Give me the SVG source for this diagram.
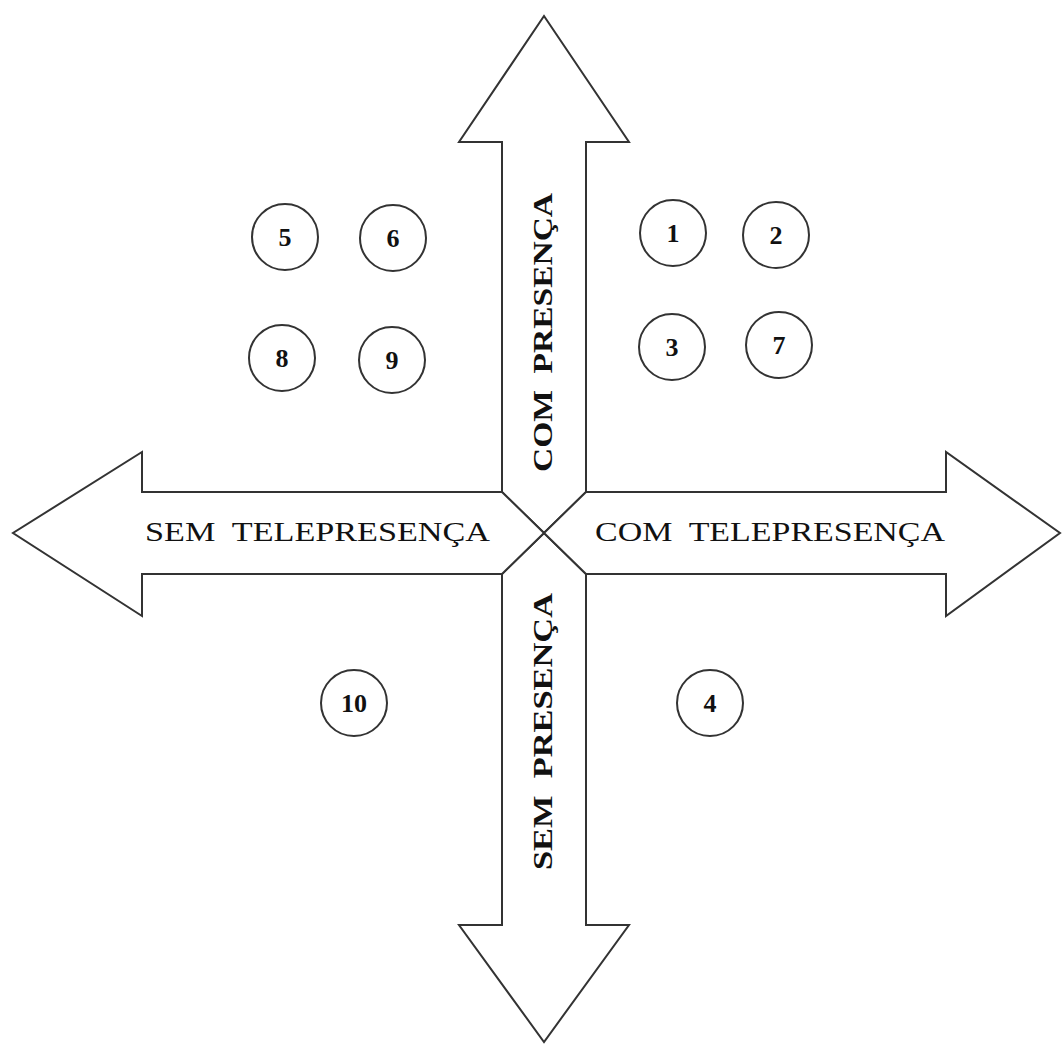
<svg xmlns="http://www.w3.org/2000/svg" width="1062" height="1046" viewBox="0 0 1062 1046">
<style>
.arrow{fill:#fff;stroke:#333;stroke-width:2;stroke-linejoin:miter}
.node circle{fill:#fff;stroke:#333;stroke-width:2}
.num{font-family:"Liberation Serif","Times New Roman",serif;font-weight:bold;font-size:26px;fill:#111;text-anchor:middle}
.hlab{font-family:"Liberation Serif","Times New Roman",serif;font-size:28px;fill:#111}
.vlab{font-family:"Liberation Serif","Times New Roman",serif;font-size:28px;font-weight:bold;fill:#111}
</style>
<rect width="1062" height="1046" fill="#fff"/>
<g id="connectors">
<polygon id="arrow-up" class="arrow" points="544,533 502,492 502,142 459,142 544,16 629,142 586,142 586,492"/>
<polygon id="arrow-down" class="arrow" points="544,533 586,574 586,925 629,925 544,1042 459,925 502,925 502,574"/>
<polygon id="arrow-left" class="arrow" points="544,533 502,574 142,574 142,616 13,533 142,452 142,492 502,492"/>
<polygon id="arrow-right" class="arrow" points="544,533 586,492 946,492 946,452 1060,533 946,616 946,574 586,574"/>
<text class="hlab" x="145" y="541" textLength="345" lengthAdjust="spacingAndGlyphs" xml:space="preserve">SEM  TELEPRESENÇA</text>
<text class="hlab" x="595" y="541" textLength="350" lengthAdjust="spacingAndGlyphs" xml:space="preserve">COM  TELEPRESENÇA</text>
<text class="vlab" transform="translate(552,472) rotate(-90)" x="0" y="0" textLength="279" lengthAdjust="spacingAndGlyphs" xml:space="preserve">COM  PRESENÇA</text>
<text class="vlab" transform="translate(552,870) rotate(-90)" x="0" y="0" textLength="277" lengthAdjust="spacingAndGlyphs" xml:space="preserve">SEM  PRESENÇA</text>
</g>
<g id="node-1" class="node"><circle cx="673" cy="233" r="33"/><text class="num" x="673" y="242">1</text></g>
<g id="node-2" class="node"><circle cx="776" cy="235" r="33"/><text class="num" x="776" y="244">2</text></g>
<g id="node-3" class="node"><circle cx="672" cy="347" r="33"/><text class="num" x="672" y="356">3</text></g>
<g id="node-7" class="node"><circle cx="779" cy="345" r="33"/><text class="num" x="779" y="354">7</text></g>
<g id="node-5" class="node"><circle cx="285" cy="237" r="33"/><text class="num" x="285" y="246">5</text></g>
<g id="node-6" class="node"><circle cx="393" cy="238" r="33"/><text class="num" x="393" y="247">6</text></g>
<g id="node-8" class="node"><circle cx="282" cy="358" r="33"/><text class="num" x="282" y="367">8</text></g>
<g id="node-9" class="node"><circle cx="392" cy="360" r="33"/><text class="num" x="392" y="369">9</text></g>
<g id="node-10" class="node"><circle cx="354" cy="703" r="33"/><text class="num" x="354" y="712">10</text></g>
<g id="node-4" class="node"><circle cx="710" cy="703" r="33"/><text class="num" x="710" y="712">4</text></g>
</svg>
